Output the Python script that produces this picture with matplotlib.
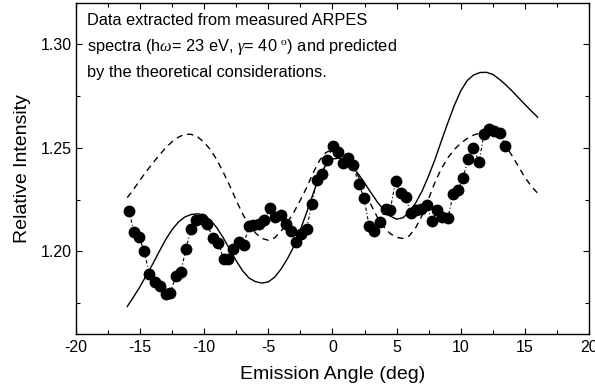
import matplotlib
matplotlib.use("Agg")
import matplotlib.pyplot as plt
from matplotlib.ticker import MultipleLocator, FormatStrFormatter

plt.rcParams['font.family'] = ['Liberation Sans', 'DejaVu Sans']
plt.rcParams['mathtext.fontset'] = 'custom'
plt.rcParams['mathtext.rm'] = 'Liberation Serif'
plt.rcParams['mathtext.it'] = 'Liberation Serif:italic'
plt.rcParams['axes.unicode_minus'] = False

# Measured data (emission angle in deg, relative intensity)
data_angle = [-15.85, -15.50, -15.09, -14.68, -14.29, -13.82, -13.43, -12.99, -12.65, -12.21,
              -11.82, -11.43, -11.01, -10.65, -10.20, -9.79, -9.32, -8.93, -8.49, -8.13,
              -7.74, -7.32, -6.91, -6.52, -6.18, -5.74, -5.32, -4.88, -4.47, -4.05,
              -3.63, -3.24, -2.83, -2.44, -2.02, -1.61, -1.22, -0.80, -0.41, 0.03,
              0.40, 0.84, 1.22, 1.61, 2.06, 2.45, 2.86, 3.25, 3.69, 4.14,
              4.50, 4.92, 5.31, 5.70, 6.11, 6.50, 6.94, 7.36, 7.75, 8.16,
              8.55, 8.99, 9.41, 9.77, 10.19, 10.58, 10.99, 11.43, 11.82, 12.21,
              12.63, 13.05, 13.49]
data_intensity = [1.2196, 1.2094, 1.2069, 1.2001, 1.1890, 1.1851, 1.1833, 1.1793, 1.1800, 1.1880,
                  1.1900, 1.2013, 1.2107, 1.2152, 1.2157, 1.2130, 1.2065, 1.2042, 1.1963, 1.1963,
                  1.2011, 1.2044, 1.2032, 1.2123, 1.2125, 1.2130, 1.2150, 1.2207, 1.2165, 1.2175,
                  1.2133, 1.2097, 1.2045, 1.2081, 1.2107, 1.2230, 1.2343, 1.2372, 1.2440, 1.2510,
                  1.2479, 1.2426, 1.2453, 1.2416, 1.2324, 1.2259, 1.2121, 1.2097, 1.2142, 1.2205,
                  1.2200, 1.2338, 1.2280, 1.2261, 1.2184, 1.2198, 1.2205, 1.2223, 1.2146, 1.2199,
                  1.2167, 1.2159, 1.2275, 1.2295, 1.2356, 1.2448, 1.2500, 1.2432, 1.2569, 1.2592,
                  1.2579, 1.2571, 1.2508]

# Theory (solid line), read every 0.5 deg
solid_angle = [-16, -15.5, -15, -14.5, -14, -13.5, -13, -12.5, -12, -11.5, -11, -10.5, -10,
               -9.5, -9, -8.5, -8, -7.5, -7, -6.5, -6, -5.5, -5, -4.5, -4, -3.5, -3, -2.5,
               -2, -1.5, -1, -0.5, 0, 0.5, 1, 1.5, 2, 2.5, 3, 3.5, 4, 4.5, 5, 5.5, 6, 6.5,
               7, 7.5, 8, 8.5, 9, 9.5, 10, 10.5, 11, 11.5, 12, 12.5, 13, 13.5, 14, 14.5,
               15, 15.5, 16]
solid_intensity = [1.1733, 1.1780, 1.1830, 1.1885, 1.1940, 1.2000, 1.2057, 1.2105, 1.2142,
                   1.2166, 1.2178, 1.2181, 1.2174, 1.2150, 1.2112, 1.2063, 1.2008, 1.1953,
                   1.1905, 1.1870, 1.1853, 1.1846, 1.1852, 1.1875, 1.1915, 1.1965, 1.2025,
                   1.2105, 1.2190, 1.2280, 1.2365, 1.2420, 1.2446, 1.2450, 1.2438, 1.2412,
                   1.2375, 1.2330, 1.2283, 1.2238, 1.2200, 1.2170, 1.2155, 1.2162, 1.2190,
                   1.2235, 1.2293, 1.2365, 1.2445, 1.2535, 1.2622, 1.2705, 1.2775, 1.2825,
                   1.2852, 1.2864, 1.2865, 1.2855, 1.2832, 1.2805, 1.2775, 1.2742, 1.2710,
                   1.2678, 1.2648]

# Theory (dashed line), read every 0.5 deg
dash_angle = [-16, -15.5, -15, -14.5, -14, -13.5, -13, -12.5, -12, -11.5, -11, -10.5, -10,
              -9.5, -9, -8.5, -8, -7.5, -7, -6.5, -6, -5.5, -5, -4.5, -4, -3.5, -3, -2.5,
              -2, -1.5, -1, -0.5, 0, 0.5, 1, 1.5, 2, 2.5, 3, 3.5, 4, 4.5, 5, 5.5, 6, 6.5,
              7, 7.5, 8, 8.5, 9, 9.5, 10, 10.5, 11, 11.5, 12, 12.5, 13, 13.5, 14, 14.5,
              15, 15.5, 16]
dash_intensity = [1.2259, 1.2300, 1.2345, 1.2387, 1.2427, 1.2465, 1.2500, 1.2530, 1.2552,
                  1.2566, 1.2565, 1.2552, 1.2526, 1.2490, 1.2440, 1.2380, 1.2315, 1.2245,
                  1.2180, 1.2127, 1.2088, 1.2062, 1.2053, 1.2065, 1.2098, 1.2140, 1.2190,
                  1.2248, 1.2310, 1.2380, 1.2440, 1.2478, 1.2490, 1.2485, 1.2465, 1.2422,
                  1.2365, 1.2295, 1.2225, 1.2165, 1.2118, 1.2085, 1.2067, 1.2062, 1.2075,
                  1.2115, 1.2175, 1.2255, 1.2335, 1.2400, 1.2452, 1.2492, 1.2522, 1.2545,
                  1.2562, 1.2571, 1.2573, 1.2565, 1.2545, 1.2510, 1.2462, 1.2410, 1.2357,
                  1.2315, 1.2280]

fig = plt.figure(figsize=(5.95, 3.91), dpi=100)
ax = fig.add_axes([0.1277, 0.1458, 0.8622, 0.8465])

ax.plot(solid_angle, solid_intensity, color='black', lw=1.0)
ax.plot(dash_angle, dash_intensity, color='black', lw=1.0, linestyle=(0, (4.5, 3.5)))
ax.plot(data_angle, data_intensity, color='black', lw=0.8, linestyle=(0, (3, 2, 1, 2)),
        marker='o', markersize=7.5, markerfacecolor='black', markeredgecolor='black')

ax.set_xlim(-20, 20)
ax.set_ylim(1.16, 1.32)
ax.xaxis.set_major_locator(MultipleLocator(5))
ax.xaxis.set_minor_locator(MultipleLocator(2.5))
ax.yaxis.set_major_locator(MultipleLocator(0.05))
ax.yaxis.set_minor_locator(MultipleLocator(0.025))
ax.yaxis.set_major_formatter(FormatStrFormatter('%.2f'))
ax.tick_params(which='both', direction='in', top=True, right=True, labelsize=11.5, width=0.8)
ax.tick_params(which='major', length=4)
ax.tick_params(which='minor', length=3)
ax.tick_params(axis='x', which='major', pad=4.5)
ax.tick_params(axis='y', which='major', pad=3)
for s in ax.spines.values():
    s.set_linewidth(1.0)

ax.set_xlabel('Emission Angle (deg)', fontsize=14, labelpad=8)
ax.set_ylabel('Relative Intensity', fontsize=14, labelpad=7)

ax.text(0.022, 0.970,
        'Data extracted from measured ARPES\n'
        'spectra (h$\\omega$= 23 eV, $\\gamma$= 40 $^{\\mathrm{o}}$) and predicted\n'
        'by the theoretical considerations.',
        transform=ax.transAxes, ha='left', va='top', fontsize=11.8, linespacing=1.65)

fig.savefig('out.png', dpi=100)
